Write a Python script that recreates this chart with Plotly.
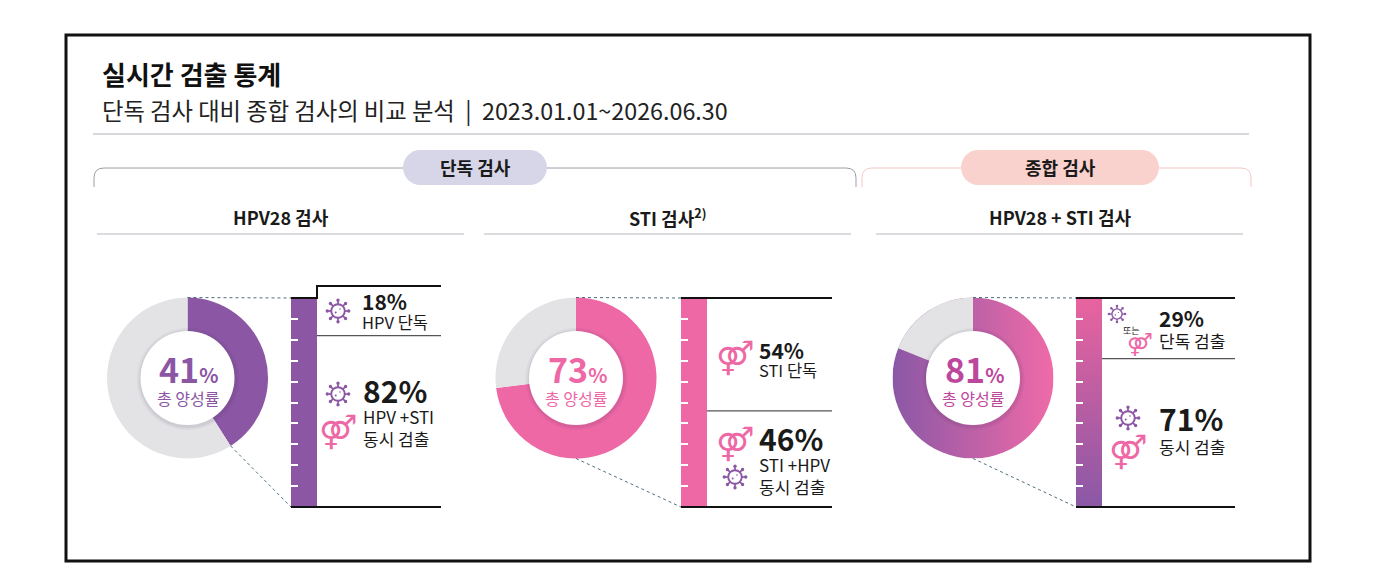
import base64
import math

import plotly.graph_objects as go

W, H = 1400, 578
OFF = 8  # page body margin: coordinates below are measured on the screenshot
FONT = "Noto Sans CJK KR"
PURPLE = "#8b56a4"
PINK = "#ee68a6"
MAGENTA = "#bd479d"
GRAY = "#e3e3e6"
INK = "#1a1a1a"

# ---- data ----
title = "실시간 검출 통계"
subtitle = "단독 검사 대비 종합 검사의 비교 분석  |  2023.01.01~2026.06.30"
group_labels = ["단독 검사", "종합 검사"]
panel_titles = ["HPV28 검사", "STI 검사<sup>2)</sup>", "HPV28 + STI 검사"]
center_label = "총 양성률"
total_positive = [41, 73, 81]
single_pct = [18, 54, 29]
combined_pct = [82, 46, 71]
single_labels = ["HPV 단독", "STI 단독", "단독 검출"]
combined_labels = ["HPV +STI<br>동시 검출", "STI +HPV<br>동시 검출", "동시 검출"]
bar_ticks = [10, 20, 30, 40, 50, 60, 70, 80, 90]

# ---- layout geometry (screen pixels) ----
donut_cx = [187.5, 576, 973]
donut_cy = 378
donut_r = 80.5
inner_r = 47
bar_x0 = [291, 681, 1076]
bar_w = 26
bar_top, bar_bot = 298, 507
line_end = [441, 832, 1235]
text_x = [360, 757, 1157]
ring_colors = [PURPLE, PINK, "rgba(0,0,0,0)"]
center_colors = [PURPLE, PINK, MAGENTA]


def fx(x):
    return (x - OFF) / W


def fy(y):
    return 1 - (y - OFF) / H


def svg_uri(svg):
    return "data:image/svg+xml;base64," + base64.b64encode(svg.encode()).decode()


grad_circle = svg_uri(
    '<svg xmlns="http://www.w3.org/2000/svg" width="100" height="100">'
    '<defs><linearGradient id="g" x1="0" y1="0" x2="1" y2="0">'
    '<stop offset="0" stop-color="#8a58a6"/><stop offset="1" stop-color="#f06aa8"/>'
    '</linearGradient></defs><circle cx="50" cy="50" r="50" fill="url(#g)"/></svg>'
)
grad_bar = svg_uri(
    '<svg xmlns="http://www.w3.org/2000/svg" width="10" height="100">'
    '<defs><linearGradient id="g" x1="0" y1="0" x2="0" y2="1">'
    '<stop offset="0" stop-color="#e9639f"/><stop offset="1" stop-color="#8a58a6"/>'
    '</linearGradient></defs><rect width="10" height="100" fill="url(#g)"/></svg>'
)

fig = go.Figure()
shapes = []
annotations = []
images = []


def pill_path(x0, y0, x1, y1):
    r = (y1 - y0) / 2
    k = 0.5523 * r
    return (
        f"M{x0 + r},{y0} L{x1 - r},{y0} "
        f"C{x1 - r + k},{y0} {x1},{y0 + r - k} {x1},{y0 + r} "
        f"C{x1},{y0 + r + k} {x1 - r + k},{y1} {x1 - r},{y1} "
        f"L{x0 + r},{y1} "
        f"C{x0 + r - k},{y1} {x0},{y0 + r + k} {x0},{y0 + r} "
        f"C{x0},{y0 + r - k} {x0 + r - k},{y0} {x0 + r},{y0} Z"
    )


def bracket_path(x0, x1, y_top, y_bot, rad=10):
    return (
        f"M{x0},{y_bot} L{x0},{y_top + rad} Q{x0},{y_top} {x0 + rad},{y_top} "
        f"L{x1 - rad},{y_top} Q{x1},{y_top} {x1},{y_top + rad} L{x1},{y_bot}"
    )


def px_line(x0, y0, x1, y1, color, width=1, dash="solid"):
    shapes.append(dict(type="line", xref="x", yref="y", x0=x0, y0=y0, x1=x1, y1=y1,
                       line=dict(color=color, width=width, dash=dash), layer="above"))


def circle(cx, cy, r, fill, line_color=None, line_width=0):
    shapes.append(dict(type="circle", xref="x", yref="y", x0=cx - r, x1=cx + r,
                       y0=cy - r, y1=cy + r, fillcolor=fill,
                       line=dict(color=line_color or fill, width=line_width), layer="above"))


def virus(cx, cy, s=1.0):
    for k in range(8):
        a = k * math.pi / 4
        px_line(cx + 6.8 * s * math.cos(a), cy + 6.8 * s * math.sin(a),
                cx + 9.8 * s * math.cos(a), cy + 9.8 * s * math.sin(a), PURPLE, 1.7 * s)
        circle(cx + 10.7 * s * math.cos(a), cy + 10.7 * s * math.sin(a), 1.7 * s, PURPLE)
    circle(cx, cy, 6.8 * s, "white", PURPLE, 1.9 * s)
    circle(cx - 2.3 * s, cy + 1.4 * s, 1.0 * s, PURPLE)
    circle(cx + 2.0 * s, cy - 2.0 * s, 0.8 * s, PURPLE)


def gender(cx, cy, size=33):
    annotations.append(dict(x=cx, y=cy, xref="x", yref="y", text="⚤", showarrow=False,
                            font=dict(family="DejaVu Sans", size=size, color=PINK),
                            xanchor="center", yanchor="middle"))


def label(x, y, text, size, color=INK, anchor="left", bold=False, family=FONT):
    if bold:
        text = f"<b>{text}</b>"
    annotations.append(dict(x=x, y=y, xref="x", yref="y", text=text, showarrow=False,
                            font=dict(family=family, size=size, color=color),
                            xanchor=anchor, yanchor="middle", align="left"))


# frame, title and header rules
shapes.append(dict(type="rect", xref="x", yref="y", x0=66, x1=1310, y0=35, y1=561,
                   line=dict(color="#111111", width=3), layer="above"))
label(100, 73, title, 26, "#111111", bold=True)
label(100, 110, subtitle, 23.3, "#222222")
px_line(93, 134, 1249, 134, "#b4b4bc", 1.2)

shapes.append(dict(type="path", xref="x", yref="y", path=bracket_path(94, 856, 168, 187),
                   line=dict(color="#9c9ca6", width=1), layer="above"))
shapes.append(dict(type="path", xref="x", yref="y", path=bracket_path(862, 1251, 168, 187),
                   line=dict(color="#f4c9c6", width=1), layer="above"))
shapes.append(dict(type="path", xref="x", yref="y", path=pill_path(403, 150, 547, 185),
                   fillcolor="#d6d6e8", line=dict(width=0), layer="above"))
shapes.append(dict(type="path", xref="x", yref="y", path=pill_path(961, 150, 1159, 185),
                   fillcolor="#f9d1cd", line=dict(width=0), layer="above"))
label(475, 167, group_labels[0], 18, "#1a1a1a", "center", bold=True)
label(1060, 167, group_labels[1], 18, "#1a1a1a", "center", bold=True)

panel_x = [(97, 464), (484, 851), (876, 1243)]
for (a, b), t in zip(panel_x, panel_titles):
    label((a + b) / 2, 217, t, 18, "#1a1a1a", "center", bold=True)
    px_line(a, 234, b, 234, "#b8b8c2", 1.2)

# donuts
for i, pct in enumerate(total_positive):
    cx = donut_cx[i]
    dom_x = [fx(cx - donut_r), fx(cx + donut_r)]
    dom_y = [fy(donut_cy + donut_r), fy(donut_cy - donut_r)]
    fig.add_trace(go.Pie(
        values=[pct, 100 - pct], marker=dict(colors=[ring_colors[i], GRAY], line=dict(width=0)),
        sort=False, direction="clockwise", rotation=0, hole=0.55, textinfo="none",
        hoverinfo="skip", showlegend=False, domain=dict(x=dom_x, y=dom_y),
    ))
    if i == 2:
        images.append(dict(source=grad_circle, xref="paper", yref="paper", x=dom_x[0], y=dom_y[1],
                           sizex=dom_x[1] - dom_x[0], sizey=dom_y[1] - dom_y[0],
                           xanchor="left", yanchor="top", sizing="stretch", layer="below"))
    # inner disc with soft shadow
    circle(cx + 0.5, donut_cy + 1, inner_r + 4, "rgba(60,40,70,0.05)")
    circle(cx + 0.5, donut_cy + 1, inner_r + 2, "rgba(60,40,70,0.07)")
    circle(cx, donut_cy, inner_r, "white")
    label(cx + 1, donut_cy - 10,
          f"{pct}<span style='font-size:20px'>%</span>", 34, center_colors[i], "center", bold=True)
    label(cx, donut_cy + 20, center_label, 16, center_colors[i], "center")

    # dotted connectors to the bar
    ang = min(pct, 50) / 100 * 2 * math.pi
    px_line(cx, donut_cy - donut_r, bar_x0[i], bar_top, "#4d6f80", 1, "dot")
    px_line(cx + donut_r * math.sin(ang), donut_cy - donut_r * math.cos(ang),
            bar_x0[i], bar_bot, "#4d6f80", 1, "dot")

# stacked bars
layout_axes = {}
for i in range(3):
    ax = i + 2
    seg_colors = [PURPLE, PINK, "rgba(0,0,0,0)"][i]
    for val in (single_pct[i], combined_pct[i]):
        fig.add_trace(go.Bar(x=[0], y=[val], width=1, marker=dict(color=seg_colors, line=dict(width=0)),
                             xaxis=f"x{ax}", yaxis=f"y{ax}", hoverinfo="skip", showlegend=False))
    layout_axes[f"xaxis{ax}"] = dict(domain=[fx(bar_x0[i]), fx(bar_x0[i] + bar_w)], range=[-0.5, 0.5],
                                     visible=False, anchor=f"y{ax}", fixedrange=True)
    layout_axes[f"yaxis{ax}"] = dict(domain=[fy(bar_bot), fy(bar_top)], range=[100, 0],
                                     anchor=f"x{ax}", showgrid=False, zeroline=False, showline=False,
                                     showticklabels=False, ticks="inside", tickvals=bar_ticks,
                                     ticklen=7, tickwidth=1.5, tickcolor="white", fixedrange=True)
    if i == 2:
        images.append(dict(source=grad_bar, xref=f"x{ax} domain", yref=f"y{ax} domain", x=0, y=1,
                           sizex=1, sizey=1, xanchor="left", yanchor="top", sizing="stretch",
                           layer="below"))
    # separator between the two segments
    shapes.append(dict(type="line", xref="x", yref=f"y{ax}", x0=bar_x0[i] + bar_w, x1=line_end[i],
                       y0=single_pct[i], y1=single_pct[i], line=dict(color="#555555", width=1.2),
                       layer="above"))
    # bottom rule
    px_line(bar_x0[i], bar_bot, line_end[i], bar_bot, "#111111", 2)

# top rules (first one steps up to make room)
shapes.append(dict(type="path", xref="x", yref="y",
                   path=f"M{bar_x0[0]},{bar_top} L{bar_x0[0] + bar_w},{bar_top} "
                        f"L{bar_x0[0] + bar_w},286 L{line_end[0]},286",
                   line=dict(color="#111111", width=2), layer="above"))
px_line(bar_x0[1], bar_top, line_end[1], bar_top, "#111111", 2)
px_line(bar_x0[2], bar_top, line_end[2], bar_top, "#111111", 2)

# segment labels
# panel 1
virus(338, 311)
label(text_x[0], 301, f"{single_pct[0]}%", 21, INK, bold=True)
label(text_x[0], 322, single_labels[0], 16.5)
virus(338, 394)
gender(338, 431)
label(text_x[0] + 1, 390, f"{combined_pct[0]}%", 30, INK, bold=True)
label(text_x[0] + 1, 427, combined_labels[0], 17)
# panel 2
gender(735, 357)
label(text_x[1], 350, f"{single_pct[1]}%", 21, INK, bold=True)
label(text_x[1], 370, single_labels[1], 16.5)
gender(735, 443)
virus(735, 477)
label(text_x[1], 438, f"{combined_pct[1]}%", 30, INK, bold=True)
label(text_x[1], 475, combined_labels[1], 17)
# panel 3
virus(1117, 314, 0.75)
label(1131, 330, "또는", 9, INK, "center")
gender(1140, 344, 22)
label(text_x[2], 318, f"{single_pct[2]}%", 21, INK, bold=True)
label(text_x[2], 340, single_labels[2], 17)
virus(1128, 418)
gender(1128, 451)
label(text_x[2], 418, f"{combined_pct[2]}%", 30, INK, bold=True)
label(text_x[2], 446, combined_labels[2], 17)

fig.update_layout(
    width=W, height=H, margin=dict(l=0, r=0, t=0, b=0),
    paper_bgcolor="white", plot_bgcolor="rgba(0,0,0,0)",
    barmode="stack", bargap=0, showlegend=False,
    xaxis=dict(range=[OFF, W + OFF], visible=False, domain=[0, 1], fixedrange=True),
    yaxis=dict(range=[H + OFF, OFF], visible=False, domain=[0, 1], fixedrange=True),
    shapes=shapes, annotations=annotations, images=images,
    font=dict(family=FONT),
    **layout_axes,
)

fig.write_html("out.html")
